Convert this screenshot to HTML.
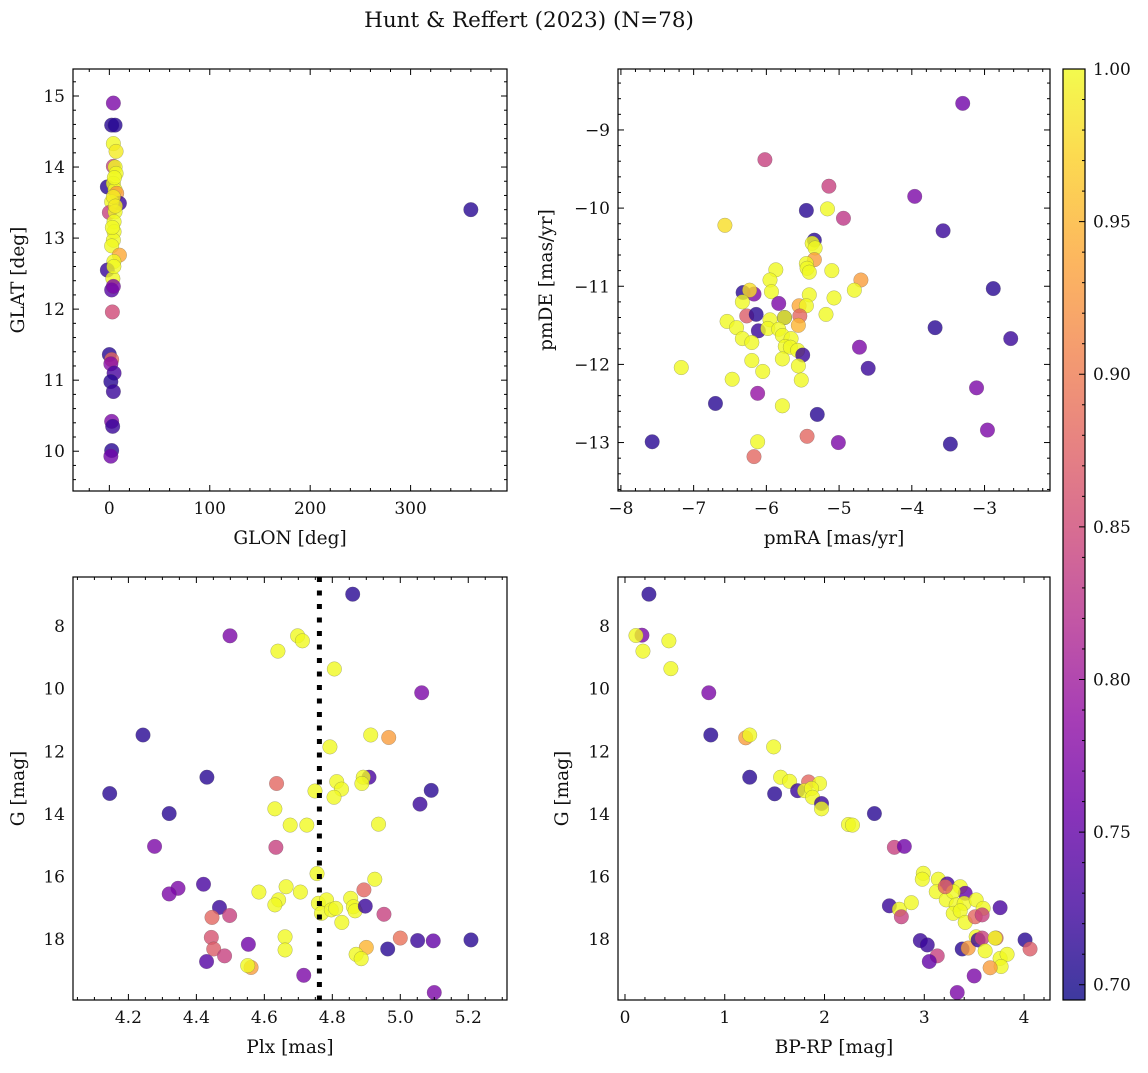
<!DOCTYPE html>
<html><head><meta charset="utf-8"><style>
html,body{margin:0;padding:0;background:#fff;}
svg text{font-family:"DejaVu Serif","Liberation Serif",serif;fill:#111;}
</style></head><body>
<svg id="chart" width="1148" height="1068" viewBox="0 0 1148 1068" xmlns="http://www.w3.org/2000/svg">
<defs>
<linearGradient id="plasma" x1="0" y1="1" x2="0" y2="0">
<stop offset="0" stop-color="#0d0887"/><stop offset="0.1" stop-color="#41049d"/><stop offset="0.2" stop-color="#6a00a8"/><stop offset="0.3" stop-color="#8f0da4"/><stop offset="0.4" stop-color="#b12a90"/><stop offset="0.5" stop-color="#cc4778"/><stop offset="0.6" stop-color="#e16462"/><stop offset="0.7" stop-color="#f2844b"/><stop offset="0.8" stop-color="#fca636"/><stop offset="0.9" stop-color="#fcce25"/><stop offset="1" stop-color="#f0f921"/>
</linearGradient>
</defs>
<text x="529" y="27" font-size="21.5" text-anchor="middle">Hunt &amp; Reffert (2023) (N=78)</text>
</svg>
<script>
// Panel 1: GLON / GLAT
const p1x=[4,2.3,5.7,4,6.7,4,5.7,6.7,-2,4,5.7,7.3,10,2.3,4,0,5.7,4.7,4.7,4,2.3,10,4.5,-2,3.5,2.3,4,3,0,2.3,1.5,4.7,1.5,4,2.3,3.3,2.3,1.5,360,5,3,6,4.5];
const p1y=[14.90,14.59,14.59,14.33,14.22,14.01,14.0,13.91,13.72,13.77,13.68,13.63,13.49,13.51,13.58,13.36,13.37,13.23,13.09,12.97,12.89,12.76,12.67,12.55,12.43,12.27,12.32,11.96,11.36,11.29,11.23,11.10,10.98,10.84,10.42,10.35,10.01,9.93,13.40,13.85,13.15,13.45,12.60];
const p1c=[0.77,0.71,0.71,1,0.99,0.84,1,1,0.71,1,1,0.93,0.72,1,0.99,0.84,1,1,1,1,1,0.94,1,0.72,1,0.74,0.77,0.85,0.71,0.88,0.78,0.73,0.71,0.72,0.77,0.72,0.71,0.76,0.71,1,1,0.99,1];
// Panel 2: pmRA / pmDE
const p2x=[-3.30,-6.02,-5.14,-3.96,-5.45,-5.16,-4.94,-6.57,-3.57,-5.34,-5.37,-5.33,-5.34,-5.45,-5.44,-5.41,-5.10,-5.87,-5.95,-4.70,-4.79,-5.93,-6.32,-6.17,-6.23,-2.88,-5.41,-5.07,-6.33,-5.83,-5.55,-5.45,-5.54,-6.27,-6.14,-5.18,-5.75,-5.75,-6.54,-6.41,-5.95,-5.56,-6.11,-5.98,-5.83,-6.33,-6.20,-5.78,-5.66,-5.74,-5.67,-5.57,-5.50,-4.72,-6.20,-6.05,-5.78,-5.56,-5.52,-7.17,-6.47,-4.60,-3.68,-2.64,-3.11,-6.12,-6.70,-5.78,-5.30,-2.96,-5.44,-5.01,-3.47,-7.57,-6.12,-6.17];
const p2y=[-8.66,-9.38,-9.72,-9.85,-10.03,-10.01,-10.13,-10.22,-10.29,-10.41,-10.45,-10.51,-10.66,-10.71,-10.77,-10.82,-10.80,-10.79,-10.92,-10.92,-11.05,-11.07,-11.08,-11.10,-11.05,-11.03,-11.11,-11.15,-11.20,-11.22,-11.25,-11.25,-11.38,-11.38,-11.36,-11.36,-11.40,-11.40,-11.45,-11.53,-11.43,-11.50,-11.57,-11.54,-11.55,-11.67,-11.72,-11.63,-11.67,-11.77,-11.78,-11.82,-11.88,-11.78,-11.95,-12.09,-11.93,-12.02,-12.20,-12.04,-12.19,-12.05,-11.53,-11.67,-12.30,-12.37,-12.50,-12.53,-12.64,-12.84,-12.92,-13.00,-13.02,-12.99,-12.99,-13.18];
const p2c=[0.76,0.84,0.84,0.77,0.71,1,0.83,0.98,0.72,0.71,1,1,0.93,1,1,1,1,1,1,0.93,1,1,0.71,0.77,0.98,0.71,1,1,1,0.77,0.94,1,0.88,0.87,0.71,1,0.71,1,1,1,1,0.95,0.72,1,1,1,1,1,1,1,1,1,0.72,0.77,1,1,1,1,1,1,1,0.72,0.71,0.72,0.77,0.79,0.71,1,0.71,0.77,0.88,0.77,0.71,0.71,1,0.88];
// Panel 3: Plx / G
const p3x=[4.860,4.499,4.698,4.712,4.640,4.806,5.063,4.243,4.913,4.966,4.793,4.431,4.636,4.908,4.891,4.887,4.813,4.827,4.805,4.749,5.091,5.058,4.145,4.320,4.631,4.676,4.725,4.936,4.277,4.634,4.755,4.925,4.421,4.346,4.320,4.664,4.584,4.706,4.893,4.642,4.631,4.759,4.783,4.854,4.768,4.797,4.810,4.862,4.867,4.897,4.828,4.468,4.498,4.446,4.952,4.444,4.451,4.483,4.553,4.430,4.661,4.661,5.000,5.051,5.097,5.208,4.900,4.963,4.870,4.885,4.561,4.551,4.716,5.100];
const p3y=[6.98,8.31,8.31,8.47,8.80,9.37,10.13,11.48,11.48,11.56,11.86,12.83,13.03,12.83,12.83,13.03,12.97,13.21,13.47,13.27,13.25,13.69,13.35,13.99,13.84,14.36,14.36,14.33,15.04,15.07,15.91,16.09,16.25,16.38,16.56,16.33,16.50,16.50,16.43,16.75,16.91,16.86,16.75,16.70,17.18,17.07,17.02,16.97,17.10,16.95,17.47,16.99,17.25,17.31,17.21,17.95,18.32,18.54,18.17,18.72,17.93,18.35,17.97,18.05,18.06,18.03,18.27,18.32,18.49,18.63,18.91,18.85,19.16,19.71];
const p3c=[0.71,0.77,1,1,1,1,0.77,0.71,1,0.93,1,0.71,0.88,0.73,1,1,1,1,1,1,0.71,0.72,0.71,0.71,1,1,1,1,0.77,0.84,1,1,0.73,0.77,0.77,1,1,1,0.88,1,1,1,1,1,1,1,1,1,1,0.72,1,0.72,0.84,0.88,0.84,0.86,0.87,0.84,0.76,0.74,1,1,0.89,0.72,0.75,0.71,0.95,0.71,1,1,0.93,1,0.77,0.77];
// Panel 4: BP-RP / G
const p4x=[0.24,0.17,0.11,0.44,0.18,0.46,0.84,0.86,1.21,1.25,1.49,1.25,1.56,1.65,1.84,1.95,1.50,1.73,1.80,1.87,1.88,1.97,1.97,2.50,2.24,2.28,2.70,2.80,2.99,2.98,3.14,3.23,3.36,3.41,3.12,3.22,3.29,3.21,3.32,3.40,3.52,3.59,3.76,3.29,3.36,3.41,3.51,3.58,2.65,2.75,2.77,2.87,2.96,3.03,3.13,3.05,3.38,3.44,3.52,3.54,3.58,3.72,3.71,3.61,3.76,3.83,3.77,3.66,4.01,4.06,3.50,3.33];
const p4y=[6.98,8.29,8.30,8.47,8.80,9.36,10.13,11.48,11.57,11.48,11.86,12.83,12.83,12.96,12.98,13.03,13.36,13.26,13.26,13.19,13.47,13.67,13.84,13.99,14.34,14.36,15.07,15.04,15.90,16.09,16.09,16.24,16.33,16.54,16.49,16.75,16.49,16.33,16.91,16.86,16.75,17.02,17.00,17.18,17.10,17.47,17.29,17.23,16.94,17.05,17.29,16.84,18.05,18.19,18.54,18.72,18.32,18.29,17.93,18.03,17.97,17.97,17.97,18.38,18.62,18.49,18.88,18.92,18.03,18.32,19.18,19.71];
const p4c=[0.71,0.77,1,1,1,1,0.77,0.71,0.93,1,1,0.71,1,1,0.88,1,0.71,0.72,1,1,1,0.72,1,0.71,1,1,0.84,0.76,1,1,1,0.73,1,0.75,1,1,1,0.88,1,1,1,1,0.73,1,1,1,0.88,0.84,0.72,1,0.84,1,0.72,0.72,0.84,0.75,0.71,0.93,1,0.72,0.84,0.88,1,1,1,1,1,0.93,0.71,0.87,0.77,0.77];
const plxLine=4.762;

const NS='http://www.w3.org/2000/svg';
const svg=document.getElementById('chart');
const VMIN=0.695,VMAX=1.0;
const stops=[[13,8,135],[65,4,157],[106,0,168],[143,13,164],[177,42,144],[204,71,120],[225,100,98],[242,132,75],[252,166,54],[252,206,37],[240,249,33]];
function plasma(v){let t=(v-VMIN)/(VMAX-VMIN);t=Math.max(0,Math.min(1,t))*10;const i=Math.min(9,Math.floor(t)),f=t-i;const a=stops[i],b=stops[i+1];return 'rgb('+a.map((c,k)=>Math.round(c+(b[k]-c)*f)).join(',')+')';}
function mk(tag,attrs,parent){const e=document.createElementNS(NS,tag);for(const k in attrs)e.setAttribute(k,attrs[k]);(parent||svg).appendChild(e);return e;}
function fmt(v,d){return (v<0?'\u2212':'')+Math.abs(v).toFixed(d);}

function panel(o){
  const g=mk('g',{});
  
  
  const sx=v=>o.L+(v-o.x0)/(o.x1-o.x0)*(o.R-o.L);
  const sy=v=>o.B-(v-o.y0)/(o.y1-o.y0)*(o.B-o.T);
  const pg=mk('g',{},g);
  
  
  for(let i=0;i<o.xs.length;i++){
    const c=mk('circle',{cx:sx(o.xs[i]),cy:sy(o.ys[i]),r:7.3,fill:plasma(o.cs[i]),'fill-opacity':0.8,stroke:'#555','stroke-opacity':0.45,'stroke-width':0.5},pg);
    
    
  }
  if(o.vline!==undefined){
    const l=mk('line',{x1:sx(o.vline),x2:sx(o.vline),y1:o.T,y2:o.B,stroke:'#000','stroke-width':5,'stroke-dasharray':'5 8.5'},g);
    
    
  }
  const fr=mk('rect',{x:o.L,y:o.T,width:o.R-o.L,height:o.B-o.T,fill:'none',stroke:'#000','stroke-width':1.2},g);
  
  
  const tk=(x1,y1,x2,y2)=>mk('line',{x1,y1,x2,y2,stroke:'#000','stroke-width':1},g);
  const eps=1e-9;
  for(let v=Math.ceil(o.x0/o.xm)*o.xm;v<=o.x1+eps;v+=o.xm){const x=sx(v);const major=Math.abs(v/o.xM-Math.round(v/o.xM))<1e-6;const len=major?6:3;tk(x,o.B,x,o.B-len);tk(x,o.T,x,o.T+len);}
  for(let v=Math.ceil(o.y0/o.ym)*o.ym;v<=o.y1+eps;v+=o.ym){const y=sy(v);const major=Math.abs(v/o.yM-Math.round(v/o.yM))<1e-6;const len=major?6:3;tk(o.L,y,o.L+len,y);tk(o.R,y,o.R-len,y);}
  o.xt.forEach(v=>{const t=mk('text',{x:sx(v),y:o.B+23,'font-size':17,'text-anchor':'middle'},g);t.textContent=fmt(v,o.xd);});
  o.yt.forEach(v=>{const t=mk('text',{x:o.L-8,y:sy(v)+6,'font-size':17,'text-anchor':'end'},g);t.textContent=fmt(v,o.yd);});
  const xl=mk('text',{x:(o.L+o.R)/2,y:o.B+53,'font-size':18.5,'text-anchor':'middle'},g);xl.textContent=o.xlab;
  
  const yx=o.ylx, yy=(o.T+o.B)/2;
  const yl=mk('text',{x:yx,y:yy,'font-size':18.5,'text-anchor':'middle',transform:'rotate(-90 '+yx+' '+yy+')'},g);yl.textContent=o.ylab;
  
}

panel({name:'glon-glat-panel',L:73,R:507,T:69,B:491,x0:-36.2,x1:396,y0:9.44,y1:15.38,xs:p1x,ys:p1y,cs:p1c,xM:100,xm:20,yM:1,ym:0.2,xt:[0,100,200,300],yt:[10,11,12,13,14,15],xd:0,yd:0,xlab:'GLON [deg]',ylab:'GLAT [deg]',ylx:24});
panel({name:'proper-motion-panel',L:618,R:1050,T:69,B:491,x0:-8.04,x1:-2.10,y0:-13.62,y1:-8.22,xs:p2x,ys:p2y,cs:p2c,xM:1,xm:0.2,yM:1,ym:0.2,xt:[-8,-7,-6,-5,-4,-3],yt:[-13,-12,-11,-10,-9],xd:0,yd:0,xlab:'pmRA [mas/yr]',ylab:'pmDE [mas/yr]',ylx:552});
panel({name:'parallax-magnitude-panel',L:73,R:507,T:577,B:1000,x0:4.037,x1:5.314,y0:19.95,y1:6.43,xs:p3x,ys:p3y,cs:p3c,xM:0.2,xm:0.05,yM:2,ym:0.5,xt:[4.2,4.4,4.6,4.8,5.0,5.2],yt:[8,10,12,14,16,18],xd:1,yd:0,xlab:'Plx [mas]',ylab:'G [mag]',ylx:24,vline:plxLine});
panel({name:'color-magnitude-panel',L:618,R:1050,T:577,B:1000,x0:-0.07,x1:4.26,y0:19.95,y1:6.43,xs:p4x,ys:p4y,cs:p4c,xM:1,xm:0.2,yM:2,ym:0.5,xt:[0,1,2,3,4],yt:[8,10,12,14,16,18],xd:0,yd:0,xlab:'BP-RP [mag]',ylab:'G [mag]',ylx:568});

const cb=mk('g',{});


const CT=69,CB=1000,CL=1063,CR=1085;
mk('rect',{x:CL,y:CT,width:CR-CL,height:CB-CT,fill:'url(#plasma)','fill-opacity':0.8},cb);
mk('rect',{x:CL,y:CT,width:CR-CL,height:CB-CT,fill:'none',stroke:'#000','stroke-width':1.2},cb);
const cy=v=>CB-(v-VMIN)/(VMAX-VMIN)*(CB-CT);
for(let k=70;k<=100;k++){const v=k/100;const y=cy(v);const major=k%5===0;mk('line',{x1:CR,x2:CR-(major?6:3),y1:y,y2:y,stroke:'#000','stroke-width':1},cb);
  if(major){const t=mk('text',{x:CR+8,y:y+6,'font-size':17},cb);t.textContent=v.toFixed(2);}}
</script>
</body></html>
